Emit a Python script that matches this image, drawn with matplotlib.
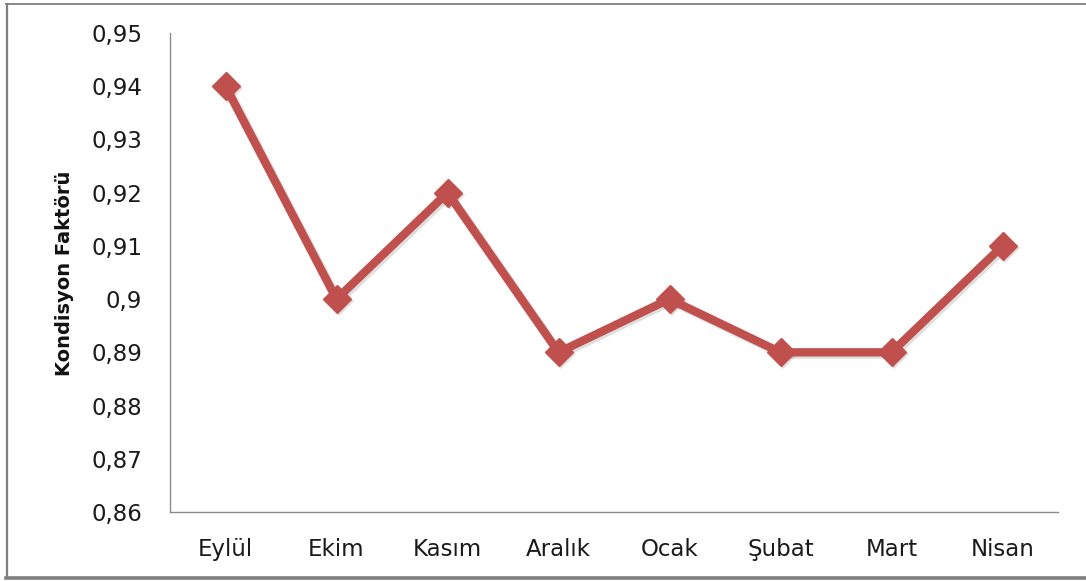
import matplotlib
matplotlib.use("Agg")
import matplotlib.pyplot as plt
import matplotlib.transforms as mtransforms
from matplotlib.lines import Line2D

months = ["Eylül", "Ekim", "Kasım", "Aralık", "Ocak", "Şubat", "Mart", "Nisan"]
condition_factor = [0.94, 0.90, 0.92, 0.89, 0.90, 0.89, 0.89, 0.91]
y_ticks = [0.86, 0.87, 0.88, 0.89, 0.90, 0.91, 0.92, 0.93, 0.94, 0.95]
y_tick_labels = ["0,86", "0,87", "0,88", "0,89", "0,9", "0,91", "0,92", "0,93", "0,94", "0,95"]

plt.rcParams["font.family"] = ["DejaVu Sans"]

W, H = 1086, 581
fig = plt.figure(figsize=(W / 100, H / 100), dpi=100)
ax = fig.add_axes([170 / W, 1 - 512 / H, (1058 - 170) / W, (512 - 33) / H])

x = list(range(len(months)))
red = "#C0504D"

# soft drop shadow under the series
shadow_tf = ax.transData + mtransforms.ScaledTranslation(2 / 100, -2 / 100, fig.dpi_scale_trans)
ax.plot(x, condition_factor, color="0.5", alpha=0.25, linewidth=6.5, marker="D",
        markersize=15.5, markeredgewidth=0, solid_joinstyle="miter",
        transform=shadow_tf, zorder=2)
ax.plot(x, condition_factor, color=red, linewidth=6, marker="D",
        markersize=14.5, markerfacecolor=red, markeredgecolor=red,
        solid_joinstyle="miter", zorder=3)

ax.set_xlim(-0.5, len(months) - 0.5)
ax.set_ylim(0.86, 0.95)
ax.set_xticks(x)
ax.set_xticklabels(months, fontsize=16.5, color="#1a1a1a")
ax.set_yticks(y_ticks)
ax.set_yticklabels(y_tick_labels, fontsize=16.5, color="#1a1a1a")
ax.tick_params(axis="both", length=0)
ax.tick_params(axis="y", pad=20)
ax.tick_params(axis="x", pad=19)

for side in ("top", "right"):
    ax.spines[side].set_visible(False)
for side in ("left", "bottom"):
    ax.spines[side].set_color("#8c8c8c")
    ax.spines[side].set_linewidth(1.0)

fig.text(65 / W, 1 - 273 / H, "Kondisyon Faktörü", rotation=90, ha="center",
         va="center", fontsize=14, fontweight="bold", color="#111111")

# Frame around the chart area (right edge lies outside the canvas)
frame_color = "#7f7f7f"
fig.add_artist(Line2D([6 / W, 1.01], [1 - 3.5 / H] * 2, transform=fig.transFigure,
                      color=frame_color, linewidth=1.3))
fig.add_artist(Line2D([6.5 / W] * 2, [1 - 3.5 / H, 1 - 578 / H], transform=fig.transFigure,
                      color=frame_color, linewidth=1.6))
fig.add_artist(Line2D([6 / W, 1.01], [1 - 578 / H] * 2, transform=fig.transFigure,
                      color=frame_color, linewidth=2.6))

fig.savefig("out.png", dpi=100)
